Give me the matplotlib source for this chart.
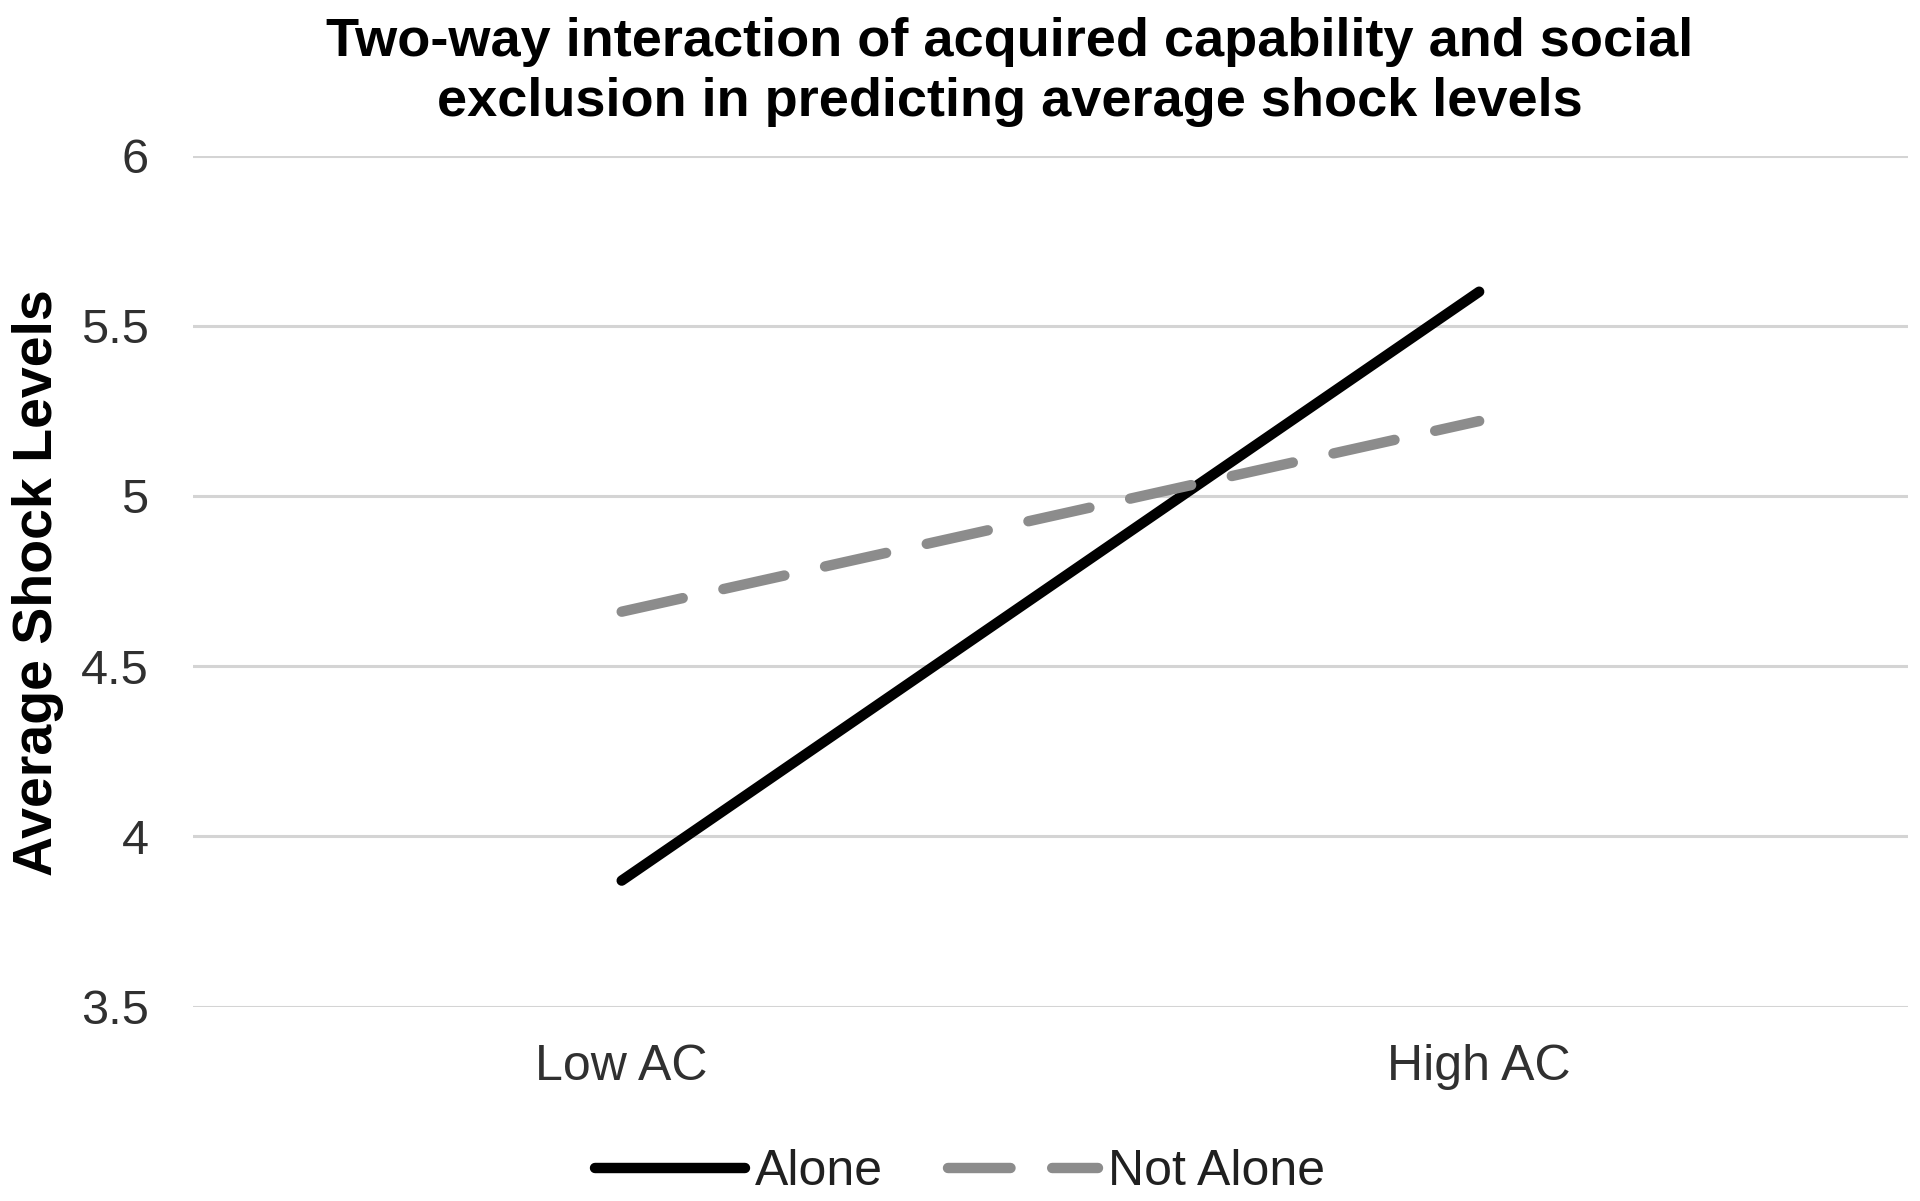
import matplotlib
matplotlib.use("Agg")
import matplotlib.pyplot as plt

# data
categories = ["Low AC", "High AC"]
alone = [3.87, 5.60]
not_alone = [4.66, 5.22]
yticks = [3.5, 4, 4.5, 5, 5.5, 6]
ytick_labels = ["3.5", "4", "4.5", "5", "5.5", "6"]

title = "Two-way interaction of acquired capability and social\nexclusion in predicting average shock levels"
ylabel = "Average Shock Levels"

plt.rcParams['font.family'] = ['Liberation Sans', 'DejaVu Sans']

fig = plt.figure(figsize=(19.2, 12.01), dpi=100)
ax = fig.add_axes([0.1005, 0.1619, 0.8932, 0.7086])

x = list(range(len(categories)))
ax.plot(x, alone, color="black", lw=7.5, solid_capstyle="round", label="Alone", zorder=3)
ax.plot(x, not_alone, color="#8c8c8c", lw=7.5, dashes=(6, 4), dash_capstyle="round",
        label="Not Alone", zorder=3)

ax.set_xlim(-0.5, 1.5)
ax.set_ylim(3.5, 6)
ax.set_yticks(yticks)
ax.set_yticklabels(ytick_labels, color="#303030")
ax.set_xticks(x)
ax.set_xticklabels(categories, color="#303030")
ax.tick_params(axis="both", length=0, labelsize=36)
ax.tick_params(axis="y", labelsize=35, pad=32)
ax.tick_params(axis="x", pad=27)
ax.grid(axis="y", color="#d4d4d4", lw=2.2)
ax.set_axisbelow(True)
for s in ax.spines.values():
    s.set_visible(False)

fig.text(0.526, 0.94, title, ha="center", va="center", fontsize=39, fontweight="bold",
         linespacing=1.25)
fig.text(0.02, 0.515, ylabel, ha="center", va="center", rotation=90, fontsize=40,
         fontweight="bold")

leg = fig.legend(loc="center", bbox_to_anchor=(0.5, 0.024), ncol=2, frameon=False,
                 fontsize=36, handlelength=3.0, handletextpad=0.2, columnspacing=1.3)
for t in leg.get_texts():
    t.set_color("#202020")

fig.savefig("out.png", dpi=100)
